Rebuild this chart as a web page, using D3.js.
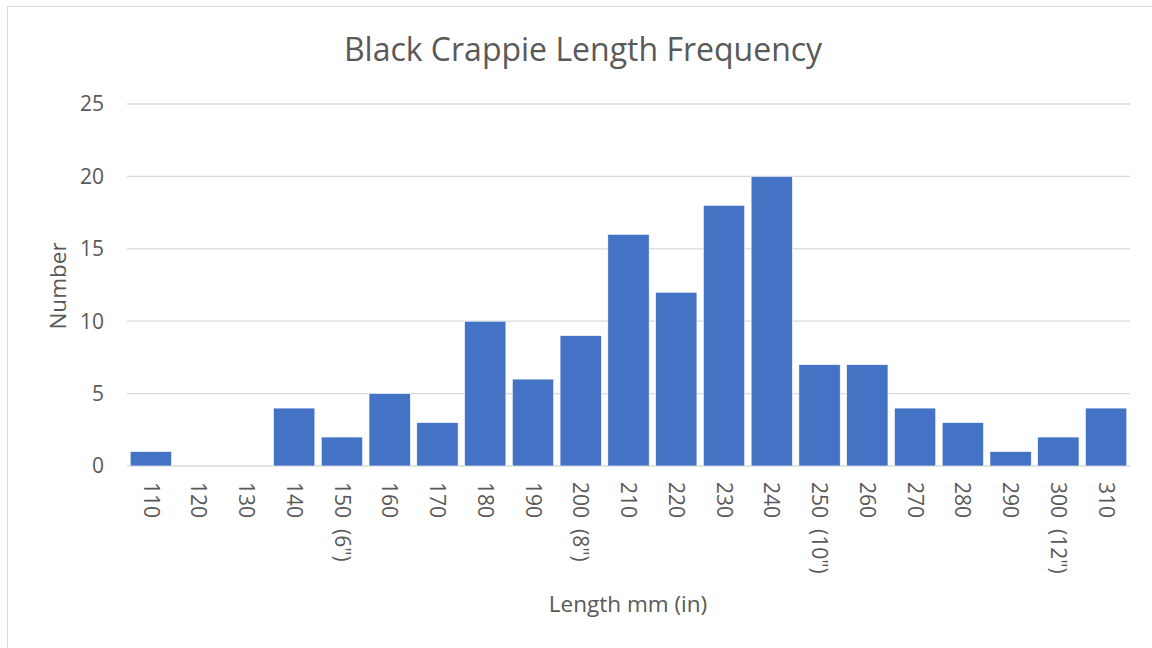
<!DOCTYPE html>
<html><head><meta charset="utf-8">
<script src="https://cdn.jsdelivr.net/npm/d3@7"></script>
<style>body{margin:0;background:#fff;} svg{display:block;} text{font-family:"Open Sans",sans-serif;fill:#595959;white-space:pre;}</style>
</head><body>
<svg id="c" width="1152" height="648"></svg>
<script>
const categories = ["110","120","130","140","150","160","170","180","190","200","210","220","230","240","250","260","270","280","290","300","310"];
const tickLabels = ["110","120","130","140","150  (6\")","160","170","180","190","200  (8\")","210","220","230","240","250  (10\")","260","270","280","290","300  (12\")","310"];
const values = [1,0,0,4,2,5,3,10,6,9,16,12,18,20,7,7,4,3,1,2,4];
const yTicks = [0,5,10,15,20,25];

const svg = d3.select("#c");
svg.append("rect").attr("x",7.5).attr("y",6.5).attr("width",1160).attr("height",660)
  .attr("fill","#fff").attr("stroke","#d9d9d9").attr("stroke-width",1);

const L=127, R=1130, T=104, B=466;
const x = d3.scaleBand().domain(categories).range([L,R]).paddingInner(0.135).paddingOuter(0.0675);
const y = d3.scaleLinear().domain([0,25]).range([B,T]);

const gy = svg.append("g");
gy.selectAll("line").data(yTicks).join("line")
  .attr("x1",L).attr("x2",R).attr("y1",d=>y(d)).attr("y2",d=>y(d))
  .attr("stroke","#d9d9d9").attr("stroke-width",1.3);
gy.selectAll("text").data(yTicks).join("text")
  .attr("x",104).attr("y",d=>y(d)).attr("dy","0.35em").attr("text-anchor","end")
  .style("font-size","21px").text(d=>d);

svg.append("g").selectAll("rect").data(values).join("rect")
  .attr("x",(d,i)=>x(categories[i])).attr("width",x.bandwidth())
  .attr("y",d=>y(d)).attr("height",d=>B-y(d))
  .attr("fill","#4472C4").attr("stroke","#fff").attr("stroke-width",0.6);

svg.append("g").selectAll("text").data(tickLabels).join("text")
  .attr("transform",(d,i)=>`translate(${x(categories[i])+x.bandwidth()/2},482) rotate(90)`)
  .attr("dy","0.35em").attr("text-anchor","start").style("font-size","21px").text(d=>d);

svg.append("text").attr("x",583).attr("y",50).attr("dy","0.35em").attr("text-anchor","middle")
  .style("font-size","32px").text("Black Crappie Length Frequency");
svg.append("text").attr("transform","translate(58,286) rotate(-90)").attr("dy","0.35em")
  .attr("text-anchor","middle").style("font-size","22.5px").text("Number");
svg.append("text").attr("x",628).attr("y",604).attr("dy","0.35em").attr("text-anchor","middle")
  .style("font-size","22.5px").text("Length mm (in)");
</script>
</body></html>
